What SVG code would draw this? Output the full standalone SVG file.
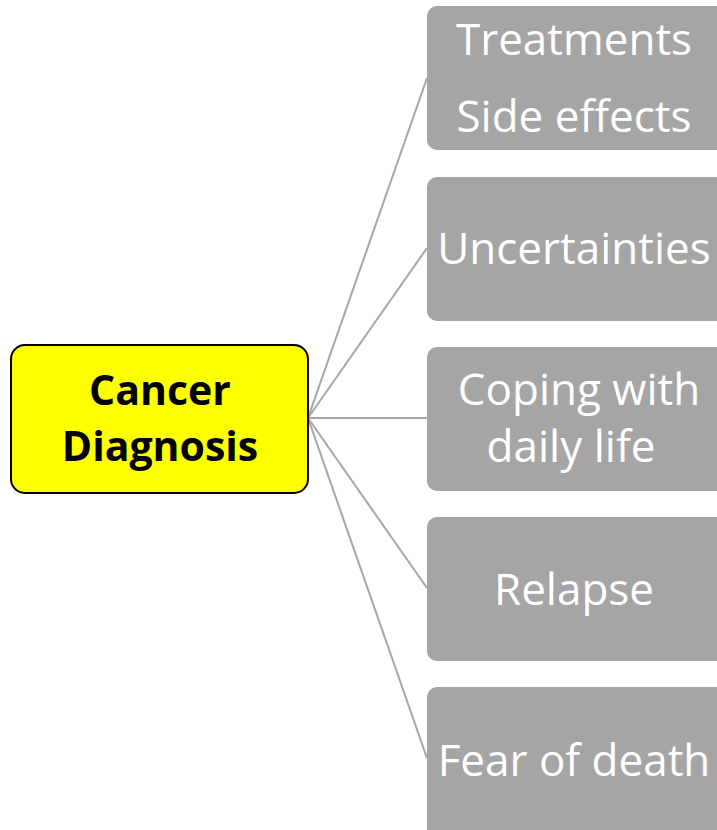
<svg xmlns="http://www.w3.org/2000/svg" width="717" height="830" viewBox="0 0 717 830">
<style>
.leaf rect{fill:#a5a5a5;}
.leaf text{fill:#fff;font-family:"Open Sans","Noto Sans",sans-serif;font-size:44px;text-anchor:middle;}
.root rect{fill:#ffff00;stroke:#000;stroke-width:2;}
.root text{fill:#000;font-family:"Open Sans","Noto Sans",sans-serif;font-weight:bold;font-size:41px;text-anchor:middle;}
.conn line{stroke:#a6a6a6;stroke-width:2;}
</style>
<rect width="717" height="830" fill="#fff"/>
<g id="connectors" class="conn">
<line x1="308" y1="418" x2="427" y2="78"/>
<line x1="308" y1="418" x2="427" y2="248"/>
<line x1="308" y1="418" x2="427" y2="418"/>
<line x1="308" y1="418" x2="427" y2="588"/>
<line x1="308" y1="418" x2="427" y2="758"/>
</g>
<g id="root" class="root">
<rect x="11" y="345" width="297" height="148" rx="14"/>
<text x="160" y="405">Cancer</text>
<text x="160" y="461">Diagnosis</text>
</g>
<g id="n1" class="leaf">
<rect x="427" y="6" width="300" height="144" rx="10"/>
<text x="574" y="55">Treatments</text>
<text x="574" y="132">Side effects</text>
</g>
<g id="n2" class="leaf">
<rect x="427" y="177" width="300" height="144" rx="10"/>
<text x="574" y="264">Uncertainties</text>
</g>
<g id="n3" class="leaf">
<rect x="427" y="347" width="300" height="144" rx="10"/>
<text x="579" y="405">Coping with</text>
<text x="571" y="462">daily life</text>
</g>
<g id="n4" class="leaf">
<rect x="427" y="517" width="300" height="144" rx="10"/>
<text x="574" y="605">Relapse</text>
</g>
<g id="n5" class="leaf">
<rect x="427" y="687" width="300" height="160" rx="10"/>
<text x="574" y="776">Fear of death</text>
</g>
</svg>
